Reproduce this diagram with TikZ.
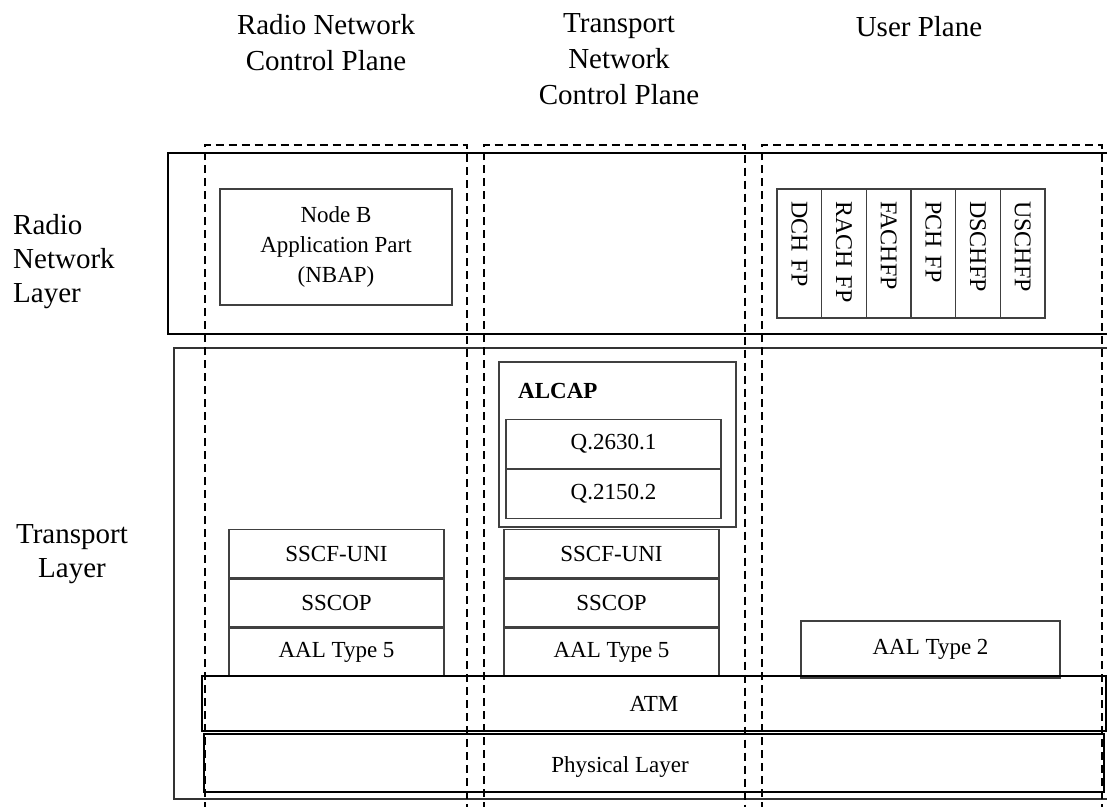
\documentclass[tikz,border=0pt]{standalone}
\usepackage{fontspec}
\setmainfont{Liberation Serif}
\newcommand{\planefont}{\fontsize{29}{36}\selectfont}
\newcommand{\blockfont}{\fontsize{23}{30}\selectfont}

\begin{document}
\begin{tikzpicture}[x=1pt,y=-1pt,
  layer/.style={draw=black,line width=1.5pt},
  block/.style={draw=black!75,line width=1.4pt,inner sep=0pt,align=center,font=\blockfont},
  fpbox/.style={block,rotate=-90,minimum width=129pt,minimum height=44.67pt,text width=105pt,align=left,
    font=\fontsize{24}{30}\selectfont},
  heading/.style={font=\planefont,inner sep=0pt},
  plane/.style={line width=2pt,dash pattern=on 8pt off 5pt}]
  \useasboundingbox (0,0) rectangle (1107,806);
  % plane headings
  \node[heading,align=center,anchor=north] (rncp) at (326,14) {Radio Network\\Control Plane};
  \node[heading,align=center,anchor=north] (tncp) at (619,13) {Transport\\Network\\Control Plane};
  \node[heading,anchor=north] (up) at (919,16) {User Plane};
  % layer headings
  \node[heading,align=left,anchor=north west,font=\fontsize{29}{34}\selectfont] (rnl) at (13,214) {Radio\\Network\\Layer};
  \node[heading,align=center,anchor=north,font=\fontsize{29}{34}\selectfont] (tl) at (72,524) {Transport\\Layer};
  % layer frames
  \draw[layer] (1120,153) -- (168,153) -- (168,334) -- (1120,334);
  \draw[layer,draw=black!80] (1120,348) -- (174,348) -- (174,799) -- (1120,799);
  % radio network layer
  \node[block,minimum width=232pt,minimum height=116pt] (nbap) at (336,247) {Node B\\Application Part\\(NBAP)};
  \foreach \t [count=\i] in {DCH FP,RACH FP,FACHFP,PCH FP,DSCHFP,USCHFP} {
    \node[fpbox] (fp\i) at ({777+44.67*(\i-0.5)},253.5) {\t};
  }
  % ALCAP
  \node[block,minimum width=237pt,minimum height=165pt] (alcap) at (617.5,444.5) {};
  \node[font=\blockfont\bfseries,anchor=base west,inner sep=0pt] (alcapt) at (518,398) {ALCAP};
  \node[block,minimum width=215pt,minimum height=48.6pt] (q2630) at (613.5,444) {Q.2630.1};
  \node[block,minimum width=215pt,minimum height=48.6pt] (q2150) at (613.5,494) {Q.2150.2};
  % signalling stacks
  \foreach \t [count=\i] in {SSCF-UNI,SSCOP,AAL Type 5} {
    \node[block,minimum width=215pt,minimum height=48pt] (ra\i) at (336.5,{553.7+49.4*(\i-1)}) {\t};
    \node[block,minimum width=215pt,minimum height=48pt] (tr\i) at (611.5,{553.7+49.4*(\i-1)}) {\t};
  }
  \node[block,minimum width=259pt,minimum height=57pt] (aal2) at (930.5,649.5) {AAL Type 2};
  % ATM and physical layer
  \node[block,draw=black,minimum width=904pt,minimum height=55pt] (atm) at (654,703.5) {ATM};
  \node[block,draw=black,minimum width=900pt,minimum height=58pt] (phy) at (654,763) {};
  \node[font=\blockfont,inner sep=0pt] (phyt) at (620,767) {Physical Layer};
  % planes
  \foreach \xa/\xb in {204.5/466.5,483.5/745,762/1102} {
    \draw[plane] (\xa,810) -- (\xa,145) -- (\xb,145) -- (\xb,810);
  }
\end{tikzpicture}
\end{document}
